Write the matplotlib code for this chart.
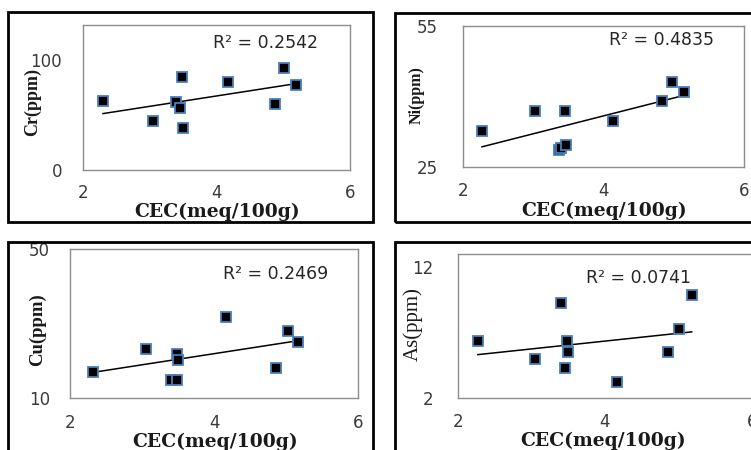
import matplotlib
matplotlib.use("Agg")
import matplotlib.pyplot as plt
from matplotlib.patches import Rectangle
import numpy as np

W, H = 751, 450

# ---- data ----
x_label = "CEC(meq/100g)"
x_ticks = [2, 4, 6]

cr_x = [2.30, 3.05, 3.40, 3.46, 3.49, 3.50, 4.17, 4.88, 5.01, 5.19]
cr_y = [63.0, 44.5, 62.1, 56.7, 84.5, 38.2, 80.0, 60.3, 92.7, 77.3]
cr_r2 = "R² = 0.2542"

ni_x = [2.27, 3.03, 3.37, 3.40, 3.45, 3.47, 4.13, 4.83, 4.97, 5.15]
ni_y = [32.6, 36.9, 28.6, 29.0, 36.9, 29.6, 34.8, 39.1, 43.0, 40.9]
ni_r2 = "R² = 0.4835"

cu_x = [2.32, 3.06, 3.40, 3.48, 3.48, 3.50, 4.17, 4.86, 5.03, 5.17]
cu_y = [17.0, 23.1, 14.9, 14.9, 21.7, 20.1, 31.8, 18.1, 27.9, 24.9]
cu_r2 = "R² = 0.2469"

as_x = [2.27, 3.05, 3.40, 3.45, 3.48, 3.50, 4.17, 4.86, 5.00, 5.18]
as_y = [6.35, 4.95, 9.23, 4.29, 6.35, 5.51, 3.20, 5.51, 7.24, 9.86]
as_r2 = "R² = 0.0741"

fig = plt.figure(figsize=(W / 100, H / 100), dpi=100)
fig.patch.set_facecolor("white")


def fx(px):
    return px / W


def fy(py):
    return 1 - py / H


def box(x0, y0, x1, y1):
    fig.patches.append(Rectangle((fx(x0), fy(y1)), fx(x1) - fx(x0), fy(y0) - fy(y1),
                                 transform=fig.transFigure, fill=False,
                                 edgecolor="black", linewidth=2.0, zorder=0))


# outer frames
box(8, 12, 373, 222)
box(395, 13, 760, 222)
box(8, 242, 373, 460)
box(395, 242, 760, 460)


def panel(area, xs, ys, ylim, yticks, ylabel, r2, r2pos, ylab_pos, xlab_pos,
          ypad, xpad, ysize, ybold=True):
    x0, y0, x1, y1 = area
    ax = fig.add_axes([fx(x0), fy(y1), fx(x1) - fx(x0), fy(y0) - fy(y1)])
    ax.set_xlim(2, 6)
    ax.set_ylim(*ylim)
    ax.set_xticks(x_ticks)
    ax.set_yticks(yticks)
    for s in ax.spines.values():
        s.set_color("#8c8c8c")
        s.set_linewidth(1.0)
    ax.tick_params(length=0, labelsize=12, colors="#3a3a3a")
    ax.tick_params(axis="y", pad=ypad)
    ax.tick_params(axis="x", pad=xpad)
    for t in ax.get_xticklabels() + ax.get_yticklabels():
        t.set_fontfamily("DejaVu Sans")
    # trendline from linear fit
    xa = np.array(xs)
    ya = np.array(ys)
    k, b = np.polyfit(xa, ya, 1)
    xl = np.array([xa.min(), xa.max()])
    ax.plot(xl, k * xl + b, color="black", linewidth=1.1, zorder=2)
    ax.plot(xs, ys, linestyle="none", marker="s", markersize=7,
            markerfacecolor="black", markeredgecolor="#4a7ebb",
            markeredgewidth=1.3, zorder=3, clip_on=False)
    fig.text(fx(r2pos[0]), fy(r2pos[1]), r2, ha="left", va="center",
             fontsize=12.5, color="#262626", family="DejaVu Sans")
    fig.text(fx(ylab_pos[0]), fy(ylab_pos[1]), ylabel, rotation=90,
             ha="center", va="center", fontsize=ysize,
             fontweight="bold" if ybold else "normal",
             family="Liberation Serif", color="#1a1a1a")
    fig.text(fx(xlab_pos[0]), fy(xlab_pos[1]), x_label, ha="center",
             va="center", fontsize=13.5, fontweight="bold",
             family="DejaVu Serif", color="#1a1a1a")
    return ax


panel((83, 25, 350, 170), cr_x, cr_y, (0, 132), [0, 100], "Cr(ppm)",
      cr_r2, (213, 43), (32, 102), (217, 212), ypad=15, xpad=10, ysize=13)
panel((463, 26, 744, 167), ni_x, ni_y, (25, 55), [25, 55], "Ni(ppm)",
      ni_r2, (609, 40), (417, 95), (604, 211), ypad=18, xpad=11, ysize=11.5)
panel((70, 249, 358, 398), cu_x, cu_y, (10, 50), [10, 50], "Cu(ppm)",
      cu_r2, (223, 274), (37, 330), (215, 442), ypad=14.5, xpad=11.5, ysize=13.5)
panel((458, 254, 752, 398), as_x, as_y, (2, 13), [2, 12], "As(ppm)",
      as_r2, (586, 278), (413, 324), (603, 441), ypad=18, xpad=11,
      ysize=15, ybold=False)

fig.savefig("out.png", dpi=100)
